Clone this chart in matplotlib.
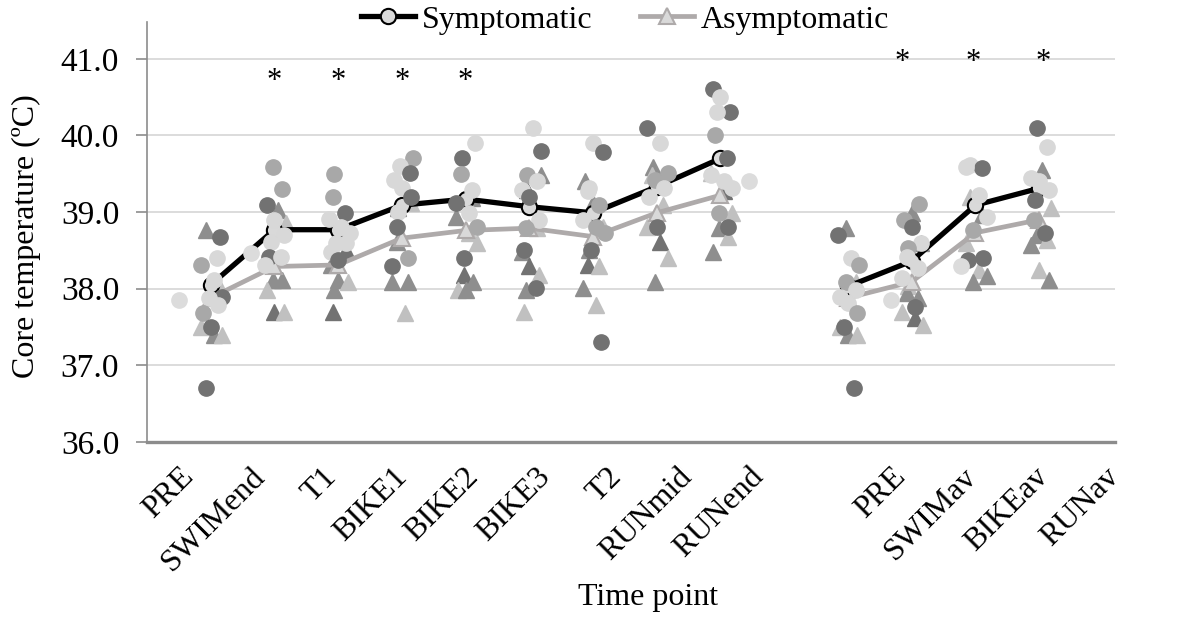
import numpy as np
import matplotlib
matplotlib.use("Agg")
import matplotlib.pyplot as plt
from matplotlib.lines import Line2D

plt.rcParams['font.family'] = ['Liberation Serif', 'DejaVu Serif']

# category labels
left_labels = ["PRE", "SWIMend", "T1", "BIKE1", "BIKE2", "BIKE3", "T2", "RUNmid", "RUNend"]
right_labels = ["PRE", "SWIMav", "BIKEav", "RUNav"]
tick_labels = left_labels + [""] + right_labels

# group means
symp_left = [38.05, 38.77, 38.77, 39.09, 39.17, 39.07, 38.99, 39.33, 39.70]
asym_left = [37.88, 38.29, 38.31, 38.66, 38.76, 38.79, 38.68, 38.99, 39.22]
symp_right = [38.03, 38.36, 39.09, 39.31]
asym_right = [37.88, 38.09, 38.73, 38.90]

# individual symptomatic values (circles), one list per time point, plus shade codes
symp_pts = [
    [36.70, 38.40, 38.31, 38.11, 37.89, 37.88, 37.79, 37.68, 37.50, 38.68],
    [39.59, 39.30, 39.09, 38.90, 38.70, 38.61, 38.42, 38.42, 38.31],
    [39.50, 39.20, 38.99, 38.91, 38.81, 38.73, 38.60, 38.60, 38.48, 38.38],
    [39.71, 39.60, 39.51, 39.42, 39.32, 39.20, 39.00, 38.81, 38.40, 38.29],
    [39.90, 39.70, 39.50, 39.29, 39.12, 38.99, 38.81, 38.40],
    [40.10, 39.80, 39.49, 39.40, 39.29, 39.20, 38.90, 38.79, 38.51, 38.01],
    [39.90, 39.79, 39.32, 39.27, 39.09, 38.90, 38.81, 38.73, 38.51, 37.30],
    [40.10, 39.90, 39.51, 39.42, 39.32, 39.20, 38.81],
    [40.60, 40.50, 40.30, 40.30, 40.00, 39.71, 39.49, 39.40, 39.32, 38.99, 38.81],
    [36.70, 38.70, 38.40, 38.31, 38.09, 37.98, 37.89, 37.81, 37.68, 37.50],
    [39.11, 38.90, 38.81, 38.60, 38.53, 38.42, 38.27, 38.14, 37.76],
    [39.62, 39.58, 39.59, 39.22, 38.94, 38.77, 38.40, 38.38],
    [40.10, 39.85, 39.45, 39.40, 39.29, 39.16, 38.90, 38.73],
]
symp_shades = [
    "dwgwdwwgdd", "ggdwwwdww", "ggdwwwwwwd", "gwdwwdwdgd", "wdgwdwgd",
    "wdgwwdwgdd", "wdwwgwggdd", "dwggwwd", "dwdwgdwwwgd", "ddwggwwwgd",
    "ggdwgwwwd", "wdwwwgdd", "dwwwwdgd",
]

# individual asymptomatic values (triangles)
asym_pts = [
    [38.77, 38.09, 37.50, 37.40, 37.40],
    [39.03, 38.86, 38.11, 38.11, 37.98, 37.70, 37.70],
    [38.51, 38.31, 38.11, 38.09, 37.98, 37.70],
    [39.12, 39.05, 38.61, 38.09, 38.09, 37.68],
    [39.19, 38.94, 38.73, 38.60, 38.18, 38.09, 37.98, 37.98],
    [39.49, 39.29, 38.79, 38.48, 38.29, 38.18, 37.98, 37.70],
    [39.40, 39.12, 38.81, 38.51, 38.31, 38.29, 38.01, 37.79],
    [39.59, 39.49, 39.09, 38.81, 38.61, 38.40, 38.09],
    [39.51, 39.27, 38.99, 38.79, 38.68, 38.48],
    [38.79, 38.09, 37.50, 37.40, 37.40],
    [38.99, 38.60, 38.03, 37.94, 37.88, 37.70, 37.62, 37.53],
    [39.20, 38.96, 38.60, 38.25, 38.16, 38.09],
    [39.55, 39.05, 38.70, 38.63, 38.57, 38.25, 38.12],
]
asym_shades = [
    "mllml", "mlmmldl", "dmmlmd", "lmmmml", "mmlldmlm",
    "mdlmdlml", "mmlmdlml", "mllldlm", "ldlmlm", "mllml",
    "mmlmmldl", "lmllmm", "mlmlmlm",
]

# stray points sitting between categories
stray_x = [0.51, 1.63, 9.44, 11.67, 12.78]
stray_y = [37.85, 38.47, 39.41, 37.85, 38.29]

# significance markers
star_x = [2, 3, 4, 5, 11.85, 12.97, 14.06]
star_y = [40.70, 40.70, 40.70, 40.70, 40.95, 40.95, 40.95]

shade = {'d': '#727272', 'm': '#8e8e8e', 'g': '#a8a8a8', 'l': '#c0c0c0', 'w': '#d8d8d8'}
jitter = [-0.08, 0.10, -0.15, 0.05, 0.18, -0.03, 0.12, -0.12, 0.0, 0.15, -0.06]

x_left = np.arange(1, 10)
x_right = np.arange(11, 15)
x_all = np.concatenate([x_left, x_right])

fig = plt.figure(figsize=(11.77, 6.17), dpi=100)
ax = fig.add_axes([147 / 1177, 1 - 442 / 617, 968 / 1177, 420 / 617])

asym_col = '#aeaaaa'

# triangles first, then mean lines, then circles on top
for i, xc in enumerate(x_all):
    for j, (v, s) in enumerate(zip(asym_pts[i], asym_shades[i])):
        ax.plot(xc + jitter[(j + 3 * i) % len(jitter)], v, marker='^', ms=12,
                color=shade[s], mec=shade[s], ls='none', zorder=2)

for xs, ys in [(x_left, symp_left), (x_right, symp_right)]:
    ax.plot(xs, ys, color='black', lw=3.8, marker='o', ms=11,
            mfc='#d9d9d9', mec='black', mew=1.5, zorder=2.5)
for xs, ys in [(x_left, asym_left), (x_right, asym_right)]:
    ax.plot(xs, ys, color=asym_col, lw=3.4, marker='^', ms=11,
            mfc='#d9d9d9', mec=asym_col, mew=1.5, zorder=2.4)

for i, xc in enumerate(x_all):
    for j, (v, s) in enumerate(zip(symp_pts[i], symp_shades[i])):
        ax.plot(xc + jitter[(j + 5 * i) % len(jitter)], v, marker='o', ms=11,
                color=shade[s], mec=shade[s], ls='none', zorder=3)

ax.plot(stray_x, stray_y, marker='o', ms=11, color='#dcdcdc', ls='none', zorder=3)

for sx, sy in zip(star_x, star_y):
    ax.text(sx, sy, "*", ha='center', va='center', fontsize=22, zorder=4)

ax.set_xlim(0, 15)
ax.set_ylim(36, 41.48)
ax.set_yticks([36, 37, 38, 39, 40, 41])
ax.set_yticklabels([f"{t:.1f}" for t in [36, 37, 38, 39, 40, 41]], fontsize=24)
ax.yaxis.grid(True, color='#d9d9d9', lw=1.3)
ax.set_axisbelow(True)

label_x = 0.67 + 1.117 * np.arange(len(tick_labels))
ax.set_xticks(label_x)
ax.set_xticklabels(tick_labels, fontsize=23, rotation=45, ha='right',
                   va='center', rotation_mode='anchor')
ax.tick_params(axis='x', length=0, pad=22)
ax.tick_params(axis='y', length=8, width=1.2, color='#8c8c8c', pad=12)

for side in ['top', 'right']:
    ax.spines[side].set_visible(False)
ax.spines['left'].set_color('#8c8c8c')
ax.spines['left'].set_linewidth(1.2)
ax.spines['bottom'].set_color('#8c8c8c')
ax.spines['bottom'].set_linewidth(2.4)

fig.text(26 / 1177, 1 - 236 / 617, "Core temperature (ºC)", rotation=90,
         ha='center', va='center', fontsize=23)
fig.text(648 / 1177, 1 - 597 / 617, "Time point", ha='center', va='center', fontsize=23)

handles = [
    Line2D([], [], color='black', lw=3.8, marker='o', ms=11, mfc='#d9d9d9', mec='black', mew=1.5),
    Line2D([], [], color=asym_col, lw=3.4, marker='^', ms=11, mfc='#d9d9d9', mec=asym_col, mew=1.5),
]
fig.legend(handles, ["Symptomatic", "Asymptomatic"], loc='center',
           bbox_to_anchor=(625 / 1177, 1 - 20 / 617), ncol=2, frameon=False,
           fontsize=23, handlelength=1.7, handletextpad=0.2, columnspacing=1.5)

fig.savefig("out.png", dpi=100)
